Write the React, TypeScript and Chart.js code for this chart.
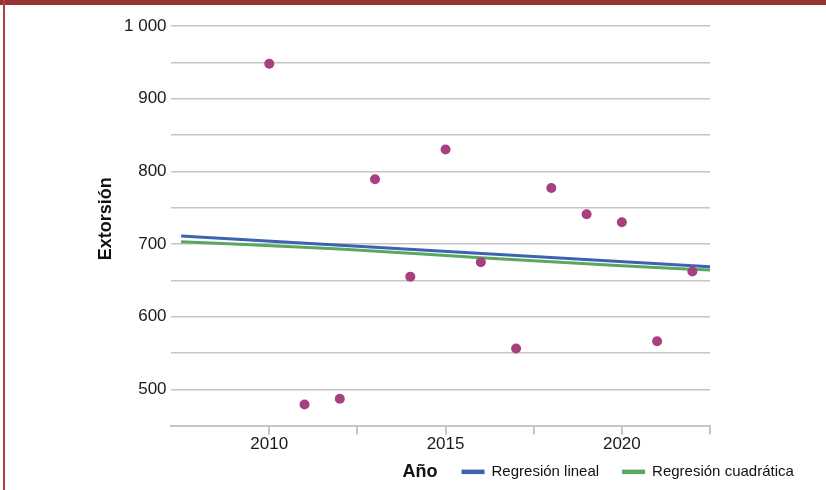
import React, { useEffect, useRef } from "react";
import { Chart, registerables } from "chart.js";

Chart.register(...registerables);

// ---- data ----
const years = [2010, 2011, 2012, 2013, 2014, 2015, 2016, 2017, 2018, 2019, 2020, 2021, 2022];
const extorsion = [948, 479, 487, 789, 655, 830, 675, 556, 777, 741, 730, 566, 662];

const linearX = [2007.5, 2022.5];
const linearY = [711, 668.5];

const quadX = [2007.5, 2012, 2016, 2020, 2022.5];
const quadY = [703, 693, 681, 670, 664];

const xTicks = [2010, 2012.5, 2015, 2017.5, 2020, 2022.5];
const yTicks = [450, 500, 550, 600, 650, 700, 750, 800, 850, 900, 950, 1000];

const yTitle = "Extorsión";
const xTitle = "Año";
const linearLabel = "Regresión lineal";
const quadLabel = "Regresión cuadrática";

const FONT = "'Liberation Sans', Arial, sans-serif";
const POINT_COLOR = "#a6407f";
const BLUE = "#3c63ae";
const GREEN = "#5aa85f";
const GRID = "#c6c6c6";

const fmt = (v: number) => String(v).replace(/\B(?=(\d{3})+(?!\d))/g, " ");

const decorPlugin = {
  id: "decor",
  afterDraw(chart: any) {
    const ctx = chart.ctx as CanvasRenderingContext2D;
    const area = chart.chartArea;
    ctx.save();
    // frame
    ctx.fillStyle = "#943634";
    ctx.fillRect(0, 0, chart.width, 5);
    ctx.fillStyle = "#b23d3b";
    ctx.fillRect(3, 0, 2, chart.height);

    // y title
    ctx.fillStyle = "#111";
    ctx.font = `bold 18px ${FONT}`;
    ctx.textAlign = "center";
    ctx.textBaseline = "middle";
    ctx.save();
    ctx.translate(area.left - 65, (area.top + area.bottom) / 2 - 7);
    ctx.rotate(-Math.PI / 2);
    ctx.fillText(yTitle, 0, 0);
    ctx.restore();

    // legend row
    const rowY = area.bottom + 46;
    let x = area.left + 232;
    ctx.textAlign = "left";
    ctx.font = `bold 18px ${FONT}`;
    ctx.fillText(xTitle, x, rowY);
    x += ctx.measureText(xTitle).width + 24;

    ctx.font = `15px ${FONT}`;
    const ds = chart.data.datasets;
    for (let i = 1; i < ds.length; i++) {
      ctx.fillStyle = ds[i].borderColor;
      ctx.fillRect(x, rowY - 2, 23, 4.5);
      x += 30;
      ctx.fillStyle = "#111";
      ctx.fillText(ds[i].label, x, rowY);
      x += ctx.measureText(ds[i].label).width + 23;
    }
    ctx.restore();
  },
};

export default function App() {
  const ref = useRef<HTMLCanvasElement | null>(null);

  useEffect(() => {
    document.body.style.margin = "0";
    if (!ref.current) return;
    const chart = new Chart(ref.current, {
      type: "scatter",
      data: {
        datasets: [
          {
            label: yTitle,
            data: years.map((y, i) => ({ x: y, y: extorsion[i] })),
            backgroundColor: POINT_COLOR,
            borderColor: POINT_COLOR,
            pointRadius: 5,
            pointBorderWidth: 0,
          },
          {
            label: linearLabel,
            data: linearX.map((x, i) => ({ x, y: linearY[i] })),
            showLine: true,
            borderColor: BLUE,
            backgroundColor: BLUE,
            borderWidth: 3,
            pointRadius: 0,
          },
          {
            label: quadLabel,
            data: quadX.map((x, i) => ({ x, y: quadY[i] })),
            showLine: true,
            borderColor: GREEN,
            backgroundColor: GREEN,
            borderWidth: 3,
            pointRadius: 0,
            cubicInterpolationMode: "monotone",
          },
        ],
      },
      options: {
        responsive: false,
        animation: false,
        layout: { padding: { left: 120, right: 116, top: 26, bottom: 35 } },
        plugins: {
          legend: { display: false },
          tooltip: { enabled: false },
        },
        scales: {
          x: {
            type: "linear",
            min: 2007.2,
            max: 2022.5,
            afterBuildTicks: (s: any) => {
              s.ticks = xTicks.map((v) => ({ value: v }));
            },
            ticks: {
              callback: (v: any) => (Number(v) % 5 === 0 ? String(v) : ""),
              font: { family: FONT, size: 17 },
              color: "#1a1a1a",
              padding: 0,
              maxRotation: 0,
              autoSkip: false,
            },
            grid: {
              drawOnChartArea: false,
              drawTicks: true,
              tickLength: 9,
              color: GRID,
              lineWidth: 2,
            },
            border: { display: true, color: GRID, width: 2 },
          },
          y: {
            type: "linear",
            min: 450,
            max: 1000,
            afterBuildTicks: (s: any) => {
              s.ticks = yTicks.map((v) => ({ value: v }));
            },
            ticks: {
              callback: (v: any) => (Number(v) % 100 === 0 ? fmt(Number(v)) : ""),
              font: { family: FONT, size: 17 },
              color: "#1a1a1a",
              padding: 4,
              autoSkip: false,
            },
            grid: { drawTicks: false, color: GRID, lineWidth: 1.5 },
            border: { display: false },
          },
        },
      },
      plugins: [decorPlugin],
    } as any);
    return () => chart.destroy();
  }, []);

  return (
    <div style={{ width: 826, height: 490, background: "#fff" }}>
      <canvas ref={ref} width={826} height={490} />
    </div>
  );
}
